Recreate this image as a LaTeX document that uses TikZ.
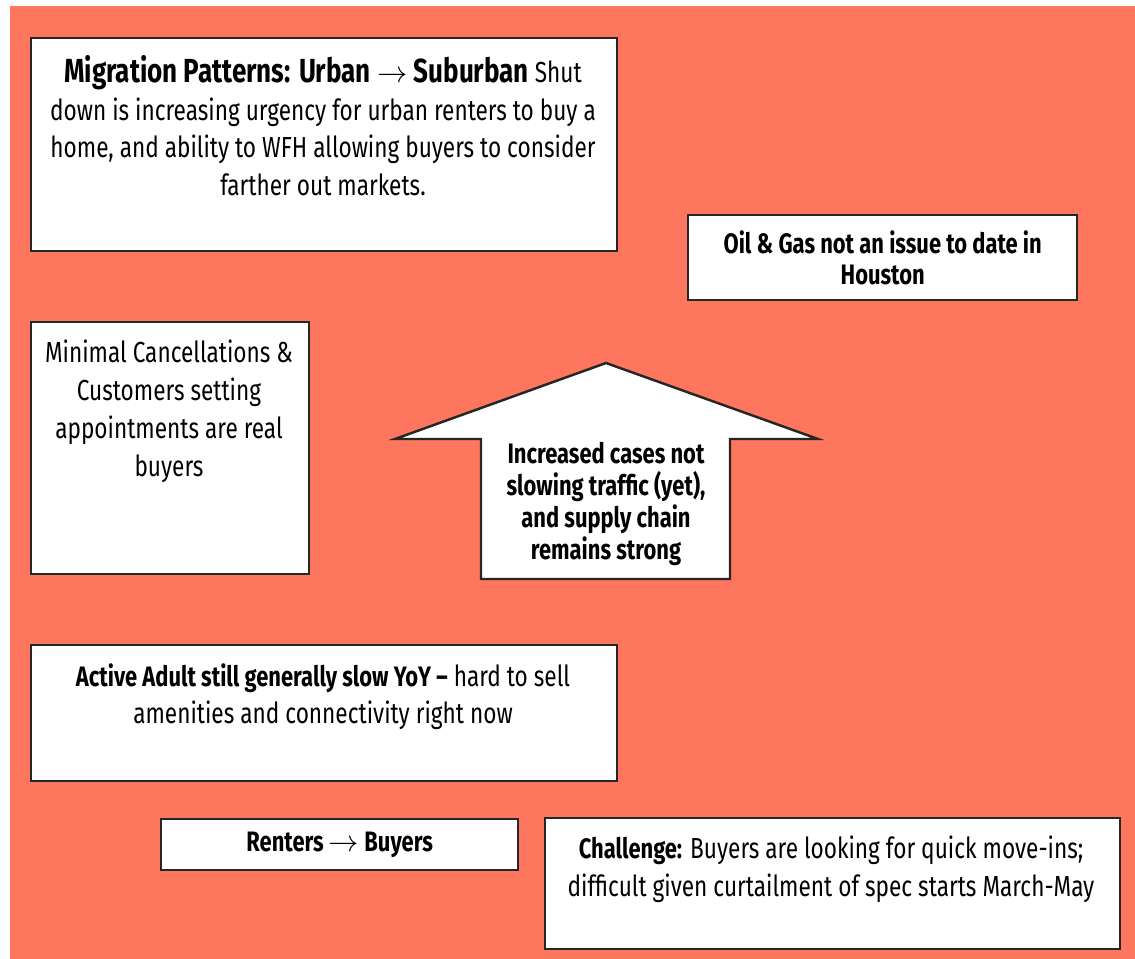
\documentclass[tikz,border=0pt]{standalone}
\usepackage{fontspec}
\setmainfont[FakeStretch=0.78]{Fira Sans}
\usepackage{tikz}
\usetikzlibrary{positioning}
\definecolor{bgorange}{RGB}{255,118,94}

\begin{document}
\begin{tikzpicture}[x=0.02cm, y=-0.02cm,
        bx/.style={draw=black!85, line width=1.4pt, fill=white, inner sep=0pt, anchor=north west},
        txt/.style={font=\fontsize{16.5}{21.5}\selectfont, align=center, inner sep=0pt},
        sbold/.style={font=\fontsize{16}{17.6}\selectfont\bfseries, align=center, inner sep=0pt}]
        % Hintergrund
        \useasboundingbox (0,0) rectangle (1135,959);
        \fill[bgorange] (10,6) rectangle (1135,959);

        % Kästen
        \node[bx, minimum width=11.72cm, minimum height=4.26cm] (mig) at (30,37) {};
        \node[bx, minimum width=7.78cm, minimum height=1.70cm] (oil) at (687,214) {};
        \node[bx, minimum width=5.56cm, minimum height=5.04cm] (mincan) at (30,321) {};
        \node[bx, minimum width=11.72cm, minimum height=2.72cm] (adult) at (30,644) {};
        \node[bx, minimum width=7.14cm, minimum height=1.02cm] (rent) at (160,818) {};
        \node[bx, minimum width=11.50cm, minimum height=2.62cm] (chal) at (544,817) {};

        % Pfeil nach oben
        \coordinate (tip) at (606,363);
        \coordinate (wl) at (395,439);
        \coordinate (wr) at (818,439);
        \coordinate (sl) at (481,439);
        \coordinate (sr) at (730,439);
        \coordinate (bl) at (481,579);
        \coordinate (br) at (730,579);
        \draw[draw=black!85, line width=1.4pt, fill=white, line join=miter]
            (tip) -- (wr) -- (sr) -- (br) -- (bl) -- (sl) -- (wl) -- cycle;

        % Texte
        \node[txt, anchor=north] (migtxt) at (323,55)
            {{\fontsize{19}{21.5}\selectfont\bfseries Migration Patterns: Urban $\rightarrow$ Suburban} Shut\\
             down is increasing urgency for urban renters to buy a\\
             home, and ability to WFH allowing buyers to consider\\
             farther out markets.};
        \node[sbold] (oiltxt) at (oil.center) {Oil \& Gas not an issue to date in\\Houston};
        \node[txt, anchor=north] (mincantxt) at (169,340)
            {Minimal Cancellations \&\\Customers setting\\appointments are real\\buyers};
        \node[sbold, font=\fontsize{16}{18.1}\selectfont\bfseries, anchor=north] (arrtxt) at (606,442)
            {Increased cases not\\slowing traffic (yet),\\and supply chain\\remains strong};
        \node[txt, anchor=north] (adulttxt) at (323,663)
            {{\fontsize{16}{21.5}\selectfont\bfseries Active Adult still generally slow YoY --} hard to sell\\
             amenities and connectivity right now};
        \node[sbold] (renttxt) at (rent.center) {Renters $\rightarrow$ Buyers};
        \node[txt, anchor=north] (chaltxt) at (831,836)
            {{\fontsize{16}{21.5}\selectfont\bfseries Challenge:} Buyers are looking for quick move-ins;\\
             difficult given curtailment of spec starts March-May};
\end{tikzpicture}
\end{document}
